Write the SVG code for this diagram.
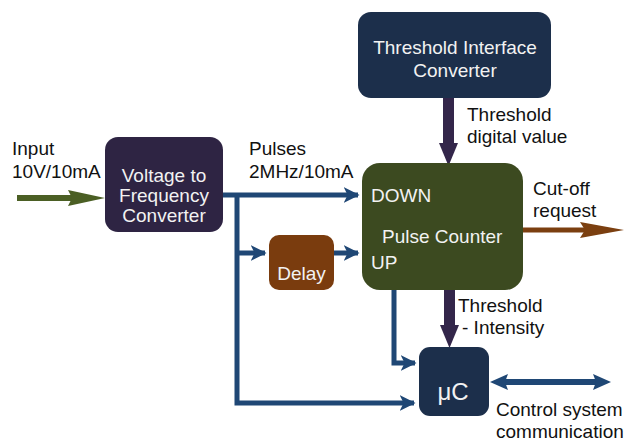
<svg xmlns="http://www.w3.org/2000/svg" width="624" height="441" viewBox="0 0 624 441">
  <defs>
    <style>
      text { font-family: "Liberation Sans", Arial, sans-serif; }
      .lbl { font-size: 19px; fill: #111; }
      .in { font-size: 19px; fill: #f2f2f2; }
      .big { font-size: 24px; }
      .blue { stroke: #1f4775; stroke-width: 5; fill: none; }
    </style>
    <marker id="ahBlue" viewBox="0 0 10 10" refX="9" refY="5" markerWidth="3.2" markerHeight="3.2" orient="auto" markerUnits="strokeWidth">
      <path d="M0,0 L10,5 L0,10 L2.5,5 Z" fill="#1f4775"/>
    </marker>
  </defs>

  <rect width="624" height="441" fill="#ffffff"/>

  <!-- connectors -->
  <g id="connectors">
    <!-- input arrow -->
    <line x1="17" y1="198" x2="72" y2="198" stroke="#4b5f24" stroke-width="6"/>
    <path d="M68,190 L105,198 L68,206 L72,198 Z" fill="#4b5f24"/>

    <!-- pulses bus -->
    <polyline class="blue" points="223,195 358,195" marker-end="url(#ahBlue)"/>
    <polyline class="blue" points="237,195 237,403 414,403" marker-end="url(#ahBlue)"/>
    <polyline class="blue" points="237,253 265,253" marker-end="url(#ahBlue)"/>
    <polyline class="blue" points="334,253 358,253" marker-end="url(#ahBlue)"/>
    <polyline class="blue" points="394,290 394,363 415,363" marker-end="url(#ahBlue)"/>

    <!-- threshold digital value -->
    <rect x="443" y="98" width="11" height="47" fill="#33264a"/>
    <path d="M439,143 L458,143 L448.5,166 Z" fill="#33264a"/>

    <!-- threshold - intensity -->
    <rect x="444" y="290" width="11" height="37" fill="#33264a"/>
    <path d="M440,325 L459,325 L449.5,348 Z" fill="#33264a"/>

    <!-- cut-off request -->
    <line x1="523" y1="230" x2="586" y2="230" stroke="#7b3f10" stroke-width="5"/>
    <path d="M580,222 L624,230 L580,238 L585,230 Z" fill="#7b3f10"/>

    <!-- control system communication -->
    <line x1="497" y1="382" x2="604" y2="382" stroke="#1f4775" stroke-width="6"/>
    <path d="M490,382 L508,374 L505,382 L508,390 Z" fill="#1f4775"/>
    <path d="M611,382 L593,374 L596,382 L593,390 Z" fill="#1f4775"/>
  </g>

  <!-- nodes -->
  <g id="vfc">
    <rect x="105" y="137" width="118" height="95" rx="13" fill="#2e2443"/>
    <text class="in" x="164" y="182" text-anchor="middle">Voltage to</text>
    <text class="in" x="164" y="202" text-anchor="middle">Frequency</text>
    <text class="in" x="164" y="222" text-anchor="middle">Converter</text>
  </g>

  <g id="tic">
    <rect x="358" y="12" width="193" height="86" rx="13" fill="#1c2f4b"/>
    <text class="in" x="455" y="54" text-anchor="middle">Threshold Interface</text>
    <text class="in" x="455" y="77" text-anchor="middle">Converter</text>
  </g>

  <g id="counter">
    <rect x="362" y="163" width="161" height="127" rx="18" fill="#3c4a20"/>
    <text class="in" x="371" y="202">DOWN</text>
    <text class="in" x="382" y="243">Pulse Counter</text>
    <text class="in" x="371" y="269">UP</text>
  </g>

  <g id="delay">
    <rect x="269" y="235" width="65" height="55" rx="10" fill="#7a3c0e"/>
    <text class="in" x="301.5" y="280" text-anchor="middle">Delay</text>
  </g>

  <g id="uc">
    <rect x="419" y="347" width="70" height="69" rx="11" fill="#1c2f4b"/>
    <text class="in big" x="453" y="400" text-anchor="middle">μC</text>
  </g>

  <!-- labels -->
  <g id="labels">
    <text class="lbl" x="12" y="155">Input</text>
    <text class="lbl" x="12" y="178">10V/10mA</text>
    <text class="lbl" x="249" y="155">Pulses</text>
    <text class="lbl" x="249" y="178">2MHz/10mA</text>
    <text class="lbl" x="467" y="121">Threshold</text>
    <text class="lbl" x="467" y="143">digital value</text>
    <text class="lbl" x="533" y="195">Cut-off</text>
    <text class="lbl" x="533" y="217">request</text>
    <text class="lbl" x="458" y="312">Threshold</text>
    <text class="lbl" x="462" y="334">- Intensity</text>
    <text class="lbl" x="496" y="416">Control system</text>
    <text class="lbl" x="496" y="438">communication</text>
  </g>
</svg>
